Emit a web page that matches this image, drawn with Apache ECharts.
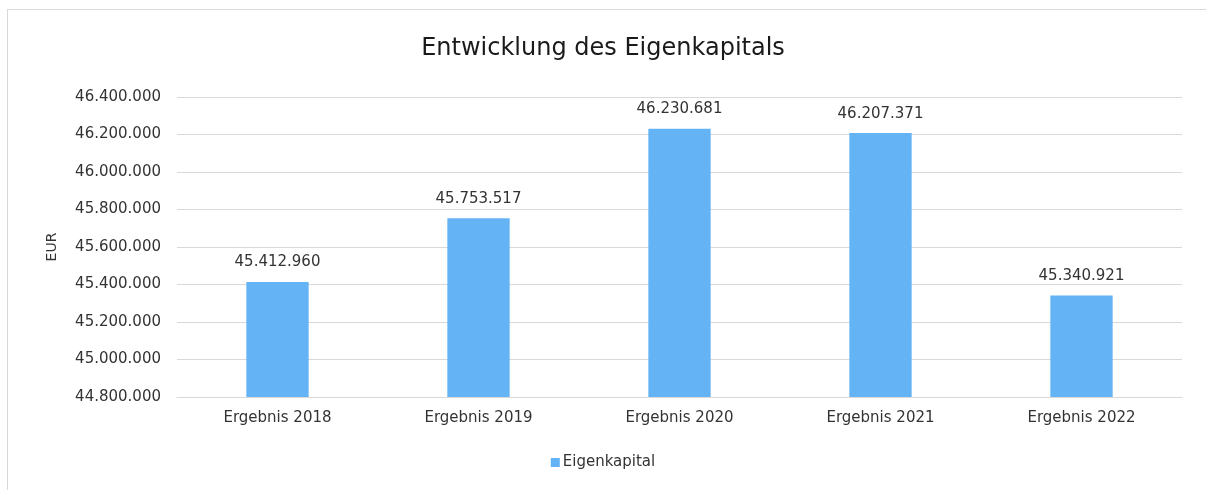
<!DOCTYPE html>
<html>
<head>
<meta charset="utf-8">
<style>
  html, body { margin: 0; padding: 0; background: #fff; }
  #frame { position: absolute; left: 7px; top: 9px; width: 1210px; height: 500px; border: 1px solid #d9d9d9; box-sizing: border-box; }
  #chart { position: absolute; left: 0; top: 0; width: 1206px; height: 490px; }
</style>
<script src="https://cdn.jsdelivr.net/npm/echarts@6/dist/echarts.min.js"></script>
</head>
<body>
<div id="frame"></div>
<div id="chart"></div>
<script>
const categories = ['Ergebnis 2018', 'Ergebnis 2019', 'Ergebnis 2020', 'Ergebnis 2021', 'Ergebnis 2022'];
const eigenkapital = [45412960, 45753517, 46230681, 46207371, 45340921];

const fmt = v => String(Math.round(v)).replace(/\B(?=(\d{3})+(?!\d))/g, '.');
const font = 'DejaVu Sans';

const chart = echarts.init(document.getElementById('chart'));
chart.setOption({
    animation: false,
    textStyle: { fontFamily: font },
    title: {
        text: 'Entwicklung des Eigenkapitals',
        left: 'center',
        top: 32,
        textStyle: { fontFamily: font, fontSize: 24, fontWeight: 'normal', color: '#1a1a1a' }
    },
    legend: {
        bottom: 15,
        left: 'center',
        itemWidth: 9,
        itemHeight: 9,
        itemGap: 4,
        icon: 'rect',
        textStyle: { fontFamily: font, fontSize: 15, color: '#333', padding: [0, 0, 0, -2] },
        data: ['Eigenkapital']
    },
    grid: { left: 177, right: 24, top: 97, bottom: 93 },
    xAxis: {
        type: 'category',
        data: categories,
        axisTick: { show: false },
        axisLine: { lineStyle: { color: '#d9d9d9', width: 1 } },
        axisLabel: { fontFamily: font, fontSize: 15, color: '#333', margin: 14 }
    },
    yAxis: {
        type: 'value',
        name: 'EUR',
        nameLocation: 'middle',
        nameGap: 118,
        nameRotate: 90,
        nameTextStyle: { fontFamily: font, fontSize: 14, color: '#333' },
        min: 44800000,
        max: 46400000,
        interval: 200000,
        axisLine: { show: false },
        axisTick: { show: false },
        splitLine: { lineStyle: { color: '#d9d9d9', width: 1 } },
        axisLabel: { fontFamily: font, fontSize: 15, color: '#333', margin: 16, formatter: fmt }
    },
    series: [{
        name: 'Eigenkapital',
        type: 'bar',
        data: eigenkapital,
        barWidth: '31%',
        itemStyle: { color: '#63b3f5' },
        label: {
            show: true,
            position: 'top',
            distance: 12,
            fontFamily: font,
            fontSize: 15,
            color: '#333',
            formatter: p => fmt(p.value)
        }
    }]
});
</script>
</body>
</html>
